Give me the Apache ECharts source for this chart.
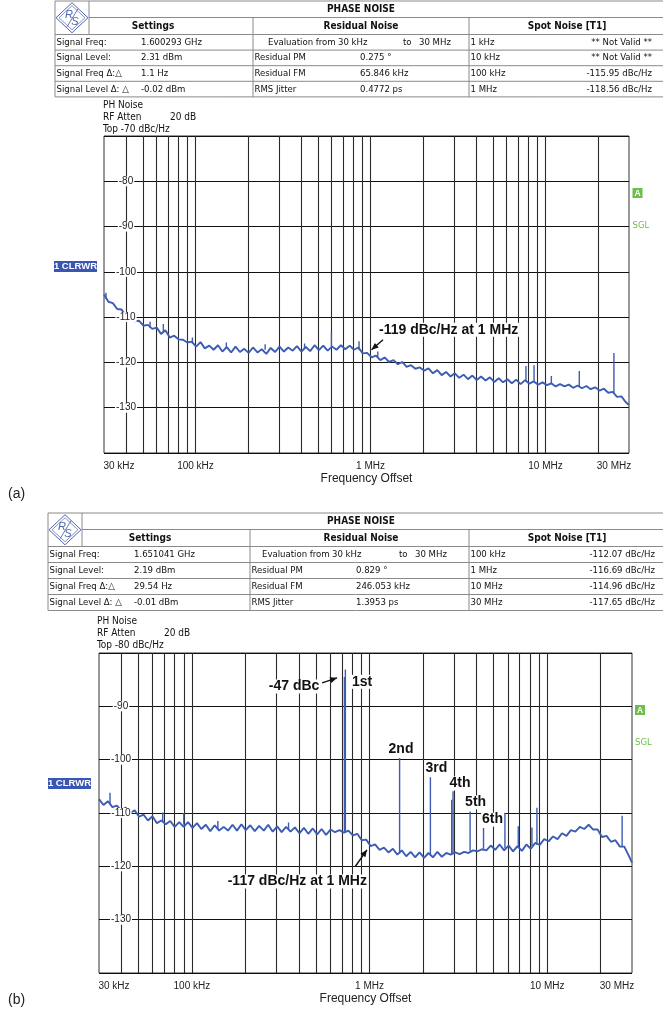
<!DOCTYPE html>
<html><head><meta charset="utf-8">
<script src="https://cdn.jsdelivr.net/npm/echarts@6/dist/echarts.min.js"></script>
<style>html,body{margin:0;padding:0;background:#fff}#c{width:663px;height:1013px}</style>
</head><body><div id="c"></div><script>
// ---------------- DATA ----------------
// sweep frequencies (kHz)
const freqKHz = [
 30, 31.8, 33.7, 35.7, 37.8, 40, 42.4, 44.9, 47.6, 50.4,
 53.4, 56.6, 60, 63.5, 67.3, 71.3, 75.5, 80, 84.8, 89.8,
 95.1, 100.8, 106.8, 113, 119.8, 126.9, 134.4, 142.4, 150.9, 159.8,
 169.3, 179.4, 190, 201, 213, 226, 239, 254, 269, 285,
 302, 320, 339, 359, 380, 403, 427, 452, 479, 507,
 537, 569, 603, 639, 677, 717, 760, 805, 853, 903,
 957, 1014, 1074, 1138, 1205, 1277, 1353, 1433, 1518, 1608,
 1704, 1805, 1912, 2026, 2146, 2273, 2408, 2551, 2703, 2863,
 3033, 3213, 3404, 3606, 3820, 4047, 4287, 4542, 4811, 5097,
 5400, 5720, 6060, 6420, 6801, 7205, 7633, 8086, 8566, 9075,
 9614, 10185, 10789, 11430, 12109, 12828, 13590, 14397, 15252, 16157,
 17117, 18133, 19210, 20350, 21560, 22840, 24196, 25633, 27155, 28767,
 30000];
// panel (a) phase noise, dBc/Hz
const traceA = [
 -105.0, -106.6, -106.9, -108.2, -108.3, -109.8, -109.9, -110.9, -110.8, -111.9,
 -111.7, -112.6, -112.3, -113.7, -112.9, -114.5, -114.1, -114.9, -115.0, -115.6,
 -115.4, -116.5, -115.5, -116.9, -116.3, -117.2, -116.2, -117.6, -116.6, -117.8,
 -116.5, -117.7, -117.0, -117.9, -116.7, -117.8, -117.1, -118.1, -116.8, -117.7,
 -116.5, -117.6, -116.7, -117.4, -116.4, -117.6, -116.6, -117.5, -116.2, -117.3,
 -116.3, -117.4, -116.5, -117.2, -116.2, -117.1, -116.3, -117.2, -116.7, -118.0,
 -117.9, -118.9, -118.5, -119.5, -118.9, -119.9, -119.5, -120.4, -119.9, -121.0,
 -120.6, -121.4, -121.1, -121.8, -121.3, -122.4, -121.7, -122.8, -122.1, -123.1,
 -122.4, -123.4, -122.7, -123.7, -122.9, -123.9, -123.1, -124.0, -123.3, -124.3,
 -123.5, -124.4, -123.7, -124.6, -123.8, -124.8, -123.9, -124.7, -124.2, -124.9,
 -124.4, -125.0, -124.6, -125.3, -124.8, -125.3, -124.9, -125.6, -125.1, -125.7,
 -125.2, -125.9, -125.5, -126.2, -125.8, -126.7, -126.5, -127.6, -127.5, -128.8,
 -129.4];
// panel (b) phase noise, dBc/Hz
const traceB = [
 -107.4, -108.5, -107.8, -108.9, -108.6, -109.5, -109.0, -110.0, -109.5, -110.7,
 -110.3, -111.4, -110.6, -111.9, -111.4, -112.1, -111.5, -112.6, -111.7, -112.6,
 -111.7, -112.8, -111.9, -113.0, -112.2, -113.4, -112.3, -113.3, -112.6, -113.3,
 -112.2, -113.3, -112.1, -113.2, -112.3, -113.4, -112.4, -113.3, -112.2, -113.5,
 -112.5, -113.6, -112.6, -113.5, -112.7, -113.8, -112.8, -113.9, -112.9, -114.0,
 -113.0, -114.1, -113.1, -113.6, -113.2, -113.7, -113.3, -114.2, -113.9, -115.1,
 -115.0, -116.2, -115.9, -116.9, -116.5, -117.4, -116.7, -117.8, -117.0, -118.1,
 -117.3, -118.3, -117.4, -118.4, -117.5, -118.3, -117.3, -118.2, -117.5, -117.8,
 -117.4, -117.7, -117.3, -117.5, -117.0, -117.2, -116.8, -117.0, -116.1, -116.9,
 -115.9, -117.0, -116.1, -117.2, -116.2, -117.1, -115.9, -116.7, -115.6, -116.0,
 -114.9, -115.3, -114.4, -114.9, -113.8, -114.3, -113.2, -113.5, -112.6, -113.0,
 -112.2, -113.1, -113.1, -114.5, -114.3, -115.4, -115.1, -116.3, -116.3, -118.0,
 -119.3];
// spurs: [freq kHz, peak dBc/Hz, floor dBc/Hz]
const spursA = [
 [30.8, -104.6, -106.0], [55, -111.0, -112.3], [65.5, -111.5, -113.5], [96, -114.5, -115.8],
 [150, -115.6, -117.0], [250, -116.0, -117.2], [420, -115.8, -117.0],
 [598, -113.4, -116.8], [860, -115.3, -117.3], [1100, -117.6, -119.0], [7730, -120.8, -124.2],
 [8600, -120.6, -124.3], [10800, -123.0, -124.8], [15600, -121.9, -125.4],
 [24600, -117.9, -126.8]];
const harmonicsB = [
 [731, -83.1, -113.5], [1476, -99.7, -117.6], [2200, -103.3, -117.8],
 [2950, -105.9, -117.6], [3680, -109.7, -117.2], [4380, -112.8, -116.7]];
const harmonicNames = ['1st', '2nd', '3rd', '4th', '5th', '6th'];
const spursB = [
 [34.6, -106.2, -108.4], [68.5, -109.9, -111.6], [90, -110.0, -112.2],
 [140, -111.5, -113.0], [350, -111.8, -113.2],
 [722, -84.5, -113.5], [2900, -107.5, -117.6], [5780, -110.0, -116.6],
 [6870, -112.5, -116.6], [8200, -112.7, -116.2], [8750, -109.0, -116.0],
 [26400, -110.5, -116.4]];
// axis ticks
const gridFreqKHz = [40, 50, 60, 70, 80, 90, 100, 200, 300, 400, 500, 600, 700, 800, 900,
 1000, 2000, 3000, 4000, 5000, 6000, 7000, 8000, 9000, 10000, 20000];
const xTickValues = [30, 100, 1000, 10000, 30000];
const xTickLabels = ['30 kHz', '100 kHz', '1 MHz', '10 MHz', '30 MHz'];
// table texts
const headerTitle = 'PHASE NOISE';
const colHeaders = ['Settings', 'Residual Noise', 'Spot Noise [T1]'];
const settingsLabels = ['Signal Freq:', 'Signal Level:', 'Signal Freq Δ:△', 'Signal Level Δ: △'];
const settingsValuesA = ['1.600293 GHz', '2.31 dBm', '1.1 Hz', '-0.02 dBm'];
const settingsValuesB = ['1.651041 GHz', '2.19 dBm', '29.54 Hz', '-0.01 dBm'];
const evalTexts = ['Evaluation from', '30 kHz', 'to', '30 MHz'];
const residualLabels = ['Residual PM', 'Residual FM', 'RMS Jitter'];
const residualValuesA = ['0.275 °', '65.846 kHz', '0.4772 ps'];
const residualValuesB = ['0.829 °', '246.053 kHz', '1.3953 ps'];
const spotLabelsA = ['1 kHz', '10 kHz', '100 kHz', '1 MHz'];
const spotValuesA = ['** Not Valid **', '** Not Valid **', '-115.95 dBc/Hz', '-118.56 dBc/Hz'];
const spotLabelsB = ['100 kHz', '1 MHz', '10 MHz', '30 MHz'];
const spotValuesB = ['-112.07 dBc/Hz', '-116.69 dBc/Hz', '-114.96 dBc/Hz', '-117.65 dBc/Hz'];
const infoA = ['PH Noise', 'RF Atten', '20 dB', 'Top -70 dBc/Hz'];
const infoB = ['PH Noise', 'RF Atten', '20 dB', 'Top -80 dBc/Hz'];

// ---------------- CHART ----------------
const FT = "'DejaVu Sans Condensed','DejaVu Sans',sans-serif";
const FA = "'Liberation Sans',Arial,sans-serif";
const FN = "'Liberation Sans Narrow','Liberation Sans',Arial,sans-serif";
const TRACE = '#3d5cb3';
const chart = echarts.init(document.getElementById('c'));

const panels = [
  {grid: {left: 104, top: 136, width: 525, height: 317}, yMax: -70, trace: traceA, spurs: spursA},
  {grid: {left: 99, top: 653, width: 533, height: 320}, yMax: -80, trace: traceB, spurs: spursB.concat(harmonicsB)}
];

function tickFmt(v) {
  let k = 0;
  xTickValues.forEach((t, j) => { if (Math.abs(Math.log10(v / t)) < Math.abs(Math.log10(v / xTickValues[k]))) k = j; });
  const s = k === 0 ? 'l' : (k === xTickValues.length - 1 ? 'r' : 'c');
  return '{' + s + '|' + xTickLabels[k] + '}';
}
const labStyle = {fontFamily: FN, fontSize: 10, color: '#222'};

const grids = [], xAxes = [], yAxes = [], series = [];
panels.forEach((p, i) => {
  grids.push(Object.assign({show: true, borderColor: '#333', borderWidth: 1, containLabel: false}, p.grid));
  xAxes.push({
    type: 'log', logBase: 10, gridIndex: i, min: 30, max: 30000,
    axisLine: {show: false}, axisTick: {show: false}, splitLine: {show: false}, minorTick: {show: false},
    axisLabel: {
      customValues: xTickValues, margin: 8, formatter: tickFmt,
      rich: {
        l: Object.assign({padding: [0, 0, 0, 30]}, labStyle),
        r: Object.assign({padding: [0, 30, 0, 0]}, labStyle),
        c: Object.assign({}, labStyle)
      }
    },
    name: 'Frequency Offset', nameLocation: 'middle', nameGap: 20,
    nameTextStyle: {fontFamily: FA, fontSize: 12, color: '#222'}
  });
  yAxes.push({
    type: 'value', gridIndex: i, min: -140, max: p.yMax, interval: 10, position: 'left',
    axisLine: {show: false}, axisTick: {show: false}, axisLabel: {show: false},
    splitLine: {show: true, lineStyle: {color: '#111', width: 1.2}}
  });
  yAxes.push({
    type: 'value', gridIndex: i, min: -140, max: p.yMax, interval: 10, position: 'left', offset: 0, z: 4,
    axisLine: {show: false}, axisTick: {show: false}, splitLine: {show: false},
    axisLabel: {inside: true, margin: 22, align: 'center', verticalAlign: 'middle',
      showMinLabel: false, showMaxLabel: false, fontFamily: FA, fontSize: 10, color: '#222',
      backgroundColor: '#fff', padding: [0, 1]}
  });
  series.push({
    type: 'line', xAxisIndex: i, yAxisIndex: 2 * i, data: [], silent: true, animation: false,
    markLine: {silent: true, symbol: ['none', 'none'], z: 1, animation: false, label: {show: false},
      lineStyle: {color: '#2a2a2a', width: 1.1, type: 'solid'},
      emphasis: {disabled: true},
      data: gridFreqKHz.map(f => ({xAxis: f}))}
  });
  series.push({
    type: 'line', xAxisIndex: i, yAxisIndex: 2 * i, z: 2, silent: true, animation: false,
    symbol: 'none', lineStyle: {color: TRACE, width: 1.9},
    data: freqKHz.map((f, j) => [f, p.trace[j]])
  });
  p.spurs.forEach(s => series.push({
    type: 'line', xAxisIndex: i, yAxisIndex: 2 * i, z: 2, silent: true, animation: false,
    symbol: 'none', lineStyle: {color: TRACE, width: 1.4},
    data: [[s[0], s[2]], [s[0], s[1]], [s[0], s[2]]]
  }));
});

chart.setOption({
  animation: false, backgroundColor: '#fff',
  grid: grids, xAxis: xAxes, yAxis: yAxes, series: series
});

// ---------------- GRAPHICS ----------------
const G = [];
function txt(x, y, text, font, opt) {
  G.push({type: 'text', z: 20, x: x, y: y, style: Object.assign({text: text, font: font, fill: '#111',
    align: 'left', textAlign: 'left', verticalAlign: 'middle', textVerticalAlign: 'middle'}, opt || {})});
}
function ln(x1, y1, x2, y2, c, w) {
  G.push({type: 'line', z: 20, shape: {x1: x1, y1: y1, x2: x2, y2: y2}, style: {stroke: c || '#8a8a8a', lineWidth: w || 1}});
}
function logo(cx, cy) {
  const c = '#4f66b0';
  G.push({type: 'polygon', z: 20, shape: {points: [[cx, cy - 15], [cx + 16, cy], [cx, cy + 15], [cx - 16, cy]]}, style: {fill: '#fff', stroke: c, lineWidth: 1}});
  G.push({type: 'polygon', z: 20, shape: {points: [[cx, cy - 12], [cx + 13, cy], [cx, cy + 12], [cx - 13, cy]]}, style: {fill: 'none', stroke: c, lineWidth: 0.7}});
  txt(cx - 3, cy - 3, 'R', 'italic 11px ' + FA, {fill: c, align: 'center', textAlign: 'center'});
  txt(cx + 3, cy + 4, 'S', 'italic 11px ' + FA, {fill: c, align: 'center', textAlign: 'center'});
  ln(cx - 5, cy + 9, cx + 6, cy - 9, c, 0.9);
}
function table(T, setVals, resVals, spotLabs, spotVals) {
  const ySplit = T.y0 + 16.5, ySet = T.y0 + 33.5, yBot = ySet + 4 * T.rowH;
  ln(T.x0, T.y0, T.xEnd, T.y0);
  ln(T.x0, T.y0, T.x0, yBot);
  ln(T.xLogo, T.y0, T.xLogo, ySet);
  ln(T.xLogo, ySplit, T.xEnd, ySplit);
  ln(T.x0, ySet, T.xEnd, ySet);
  for (let r = 1; r <= 4; r++) ln(T.x0, ySet + r * T.rowH, T.xEnd, ySet + r * T.rowH);
  ln(T.xC1, ySplit, T.xC1, yBot);
  ln(T.xC2, ySplit, T.xC2, yBot);
  logo((T.x0 + T.xLogo) / 2, (T.y0 + ySet) / 2);
  const FB = 'bold 10px ' + FT, FR = '9.5px ' + FT;
  txt(T.hx, (T.y0 + ySplit) / 2, headerTitle, FB, {align: 'center', textAlign: 'center'});
  colHeaders.forEach((h, k) => txt(T.chx[k], (ySplit + ySet) / 2, h, FB, {align: 'center', textAlign: 'center'}));
  for (let r = 0; r < 4; r++) {
    const yc = ySet + (r + 0.5) * T.rowH;
    txt(T.x0 + 1.5, yc, settingsLabels[r], FR);
    txt(T.sv, yc, setVals[r], FR);
    if (r === 0) {
      evalTexts.forEach((e, k) => txt(T.ev[k], yc, e, FR));
    } else {
      txt(T.xC1 + 1.5, yc, residualLabels[r - 1], FR);
      txt(T.rv, yc, resVals[r - 1], FR);
    }
    txt(T.xC2 + 1.5, yc, spotLabs[r], FR);
    txt(T.spr, yc, spotVals[r], FR, {align: 'right', textAlign: 'right'});
  }
}
table({x0: 55, y0: 1, xLogo: 89, xC1: 253, xC2: 469, xEnd: 663, rowH: 15.6, hx: 361,
  chx: [153, 361, 567], sv: 141, rv: 360, ev: [268, 338, 403, 419], spr: 652},
  settingsValuesA, residualValuesA, spotLabelsA, spotValuesA);
table({x0: 48, y0: 513, xLogo: 82, xC1: 250, xC2: 469, xEnd: 663, rowH: 16, hx: 361,
  chx: [150, 361, 567], sv: 134, rv: 356, ev: [262, 332, 399, 415], spr: 655},
  settingsValuesB, residualValuesB, spotLabelsB, spotValuesB);

// info text above plots
function info(x, y, lines) {
  const F = '10px ' + FT;
  txt(x, y, lines[0], F);
  txt(x, y + 12.3, lines[1], F);
  txt(x + 67, y + 12.3, lines[2], F);
  txt(x, y + 24.6, lines[3], F);
}
info(103, 105, infoA);
info(97, 621, infoB);

// trace tags
function tag(x, y) {
  G.push({type: 'rect', z: 20, shape: {x: x, y: y, width: 43, height: 11}, style: {fill: '#3a56b3'}});
  txt(x + 21.5, y + 5.7, '1 CLRWR', 'bold 9.5px ' + FA, {fill: '#fff', align: 'center', textAlign: 'center'});
}
tag(54, 261); tag(48, 778);
function sgl(x, y) {
  G.push({type: 'rect', z: 20, shape: {x: x, y: y, width: 10, height: 10}, style: {fill: '#6cbf4a'}});
  txt(x + 5, y + 5.3, 'A', 'bold 8.5px ' + FA, {fill: '#fff', align: 'center', textAlign: 'center'});
  txt(x, y + 38, 'SGL', '9.5px ' + FT, {fill: '#6cbf4a'});
}
sgl(632.5, 188); sgl(635, 705);
txt(8, 494, '(a)', '14px ' + FA, {fill: '#222'});
txt(8, 1000, '(b)', '14px ' + FA, {fill: '#222'});

// annotations anchored on data
function P(i, f, v) { return chart.convertToPixel({xAxisIndex: i, yAxisIndex: 2 * i}, [f, v]); }
function arrow(tail, tip) {
  ln(tail[0], tail[1], tip[0], tip[1], '#111', 1.4);
  const dx = tip[0] - tail[0], dy = tip[1] - tail[1], L = Math.hypot(dx, dy), ux = dx / L, uy = dy / L;
  const b = [tip[0] - ux * 7, tip[1] - uy * 7];
  G.push({type: 'polygon', z: 21, shape: {points: [tip, [b[0] - uy * 3, b[1] + ux * 3], [b[0] + uy * 3, b[1] - ux * 3]]}, style: {fill: '#111'}});
}
const FBIG = 'bold 14px ' + FA;
const bgW = {backgroundColor: '#fff', padding: [0, 1]};
// (a)
let t = P(0, 1000, -117.2); t = [t[0] + 1, t[1]];
arrow([t[0] + 11.5, t[1] - 10], t);
txt(t[0] + 6.5, t[1] - 20, '-119 dBc/Hz at 1 MHz', FBIG, Object.assign({fill: '#111'}, bgW));
// (b)
const pk1 = P(1, harmonicsB[0][0], harmonicsB[0][1]);
arrow([pk1[0] - 23.3, pk1[1] + 13.3], [pk1[0] - 8.3, pk1[1] + 8.3]);
txt(pk1[0] - 25, pk1[1] + 17, '-47 dBc', FBIG, Object.assign({fill: '#111', align: 'right', textAlign: 'right'}, bgW));
const hOff = [[16.7, 12.3], [1.4, -9], [6, -9.4], [7, -7.7], [5.5, -9], [9, -8.3]];
harmonicsB.forEach((h, k) => {
  const q = P(1, h[0], h[1]);
  txt(q[0] + hOff[k][0], q[1] + hOff[k][1], harmonicNames[k], FBIG, Object.assign({fill: '#111', align: 'center', textAlign: 'center'}, bgW));
});
let t2 = P(1, 1000, -116.9); t2 = [t2[0] - 2.6, t2[1]];
arrow([t2[0] - 11.7, t2[1] + 16.7], t2);
txt(t2[0] + 1, t2[1] + 31.7, '-117 dBc/Hz at 1 MHz', FBIG, Object.assign({fill: '#111', align: 'right', textAlign: 'right'}, bgW));

chart.setOption({graphic: {elements: G}});
</script></body></html>
